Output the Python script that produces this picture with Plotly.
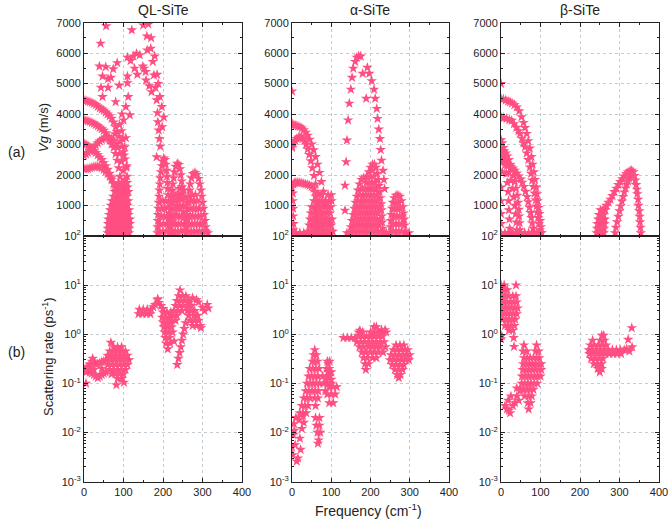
import plotly.graph_objects as go

W, H = 670, 528
PINK = '#ff4f82'
FONT = 'Liberation Sans, Arial, sans-serif'

# ===================== (a) group velocity, QL-SiTe  (f [cm-1], Vg [m/s]) =====================
ql_vg_branch1 = [(0,4450),(5,4440),(10,4420),(15,4400),(20,4370),(25,4340),(30,4300),(35,4250),(40,4200),
                 (45,4160),(50,4120),(55,4060),(60,4000),(65,3940),(70,3860),(75,3730),(80,3580),(84,3420),
                 (88,3270),(92,3100),(96,2940),(100,2760),(104,2520),(107,2250),(109,1950)]
ql_vg_branch2 = [(0,3800),(5,3790),(10,3770),(15,3750),(20,3720),(25,3690),(30,3650),(35,3610),(40,3560),
                 (45,3510),(50,3460),(55,3380),(60,3260),(65,3130),(70,3010),(75,2900),(80,2700),(84,2480),
                 (88,2230),(91,1950),(94,1650)]
ql_vg_branch3 = [(0,3030),(5,3000),(10,2960),(15,2900),(20,2850),(25,2790),(30,2730),(35,2660),(40,2580),
                 (45,2500),(50,2400),(55,2300),(60,2180),(65,2050),(70,1900),(75,1720),(80,1500),(84,1280)]
ql_vg_branch4 = [(0,2640),(5,2680),(10,2730),(15,2790),(20,2850),(25,2910),(30,2980),(35,3050),(40,3110),
                 (45,3160),(50,3200),(55,3230),(60,3240),(65,3220),(70,3180),(75,3120),(80,3030),(85,2900),
                 (90,2700),(95,2450),(100,2150),(103,1850)]
ql_vg_branch5 = [(0,2200),(5,2200),(10,2210),(15,2230),(20,2250),(25,2270),(30,2280),(35,2280),(40,2260),
                 (45,2230),(50,2180),(55,2120),(60,2040),(65,1950),(70,1840),(75,1720),(80,1580),(85,1420)]
ql_vg_scatter_low = [(98,3200),(106,3220),(103,2920),(101,2650),(108,2300),(95,3450),(90,3650),(78,3350)]
ql_vg_scatter_high = [(56,6890),(42,6320),(39,5570),(55,5550),(47,5240),(43,4870),(47,4570),(61,4870),
                      (61,5160),(74,5480),(84,5680),(89,4940),(106,4240),(116,3970),(112,4570),(110,5020),
                      (110,5240),(110,5860),(121,6760),(68,5200),(80,4400),(96,4000),(100,3800),
                      (118,5750),(125,5900),(133,5990),(141,5940),(149,5570),(152,5500),(156,5390),(157,5110),
                      (165,4920),(171,4730),(128,5500),(135,5300),
                      (150,6920),(159,6560),(169,6150),(174,5720),(177,5280),(181,4870),(184,4460),(186,4040),
                      (187,3740),(189,3470),(191,3190),(193,2940),(184,2590),(198,3580),(202,3900),(197,4240),
                      (192,4570),(188,5000),(185,5300),(163,6950),(170,6500),(160,6100),(179,5900)]
ql_vg_blob_rows = [(100,[60,66,72,78,84,90,96,102,108,114]),(250,[60,67,74,81,88,95,102,109,115]),
                   (400,[61,68,75,82,89,96,103,110,116]),(550,[62,69,76,83,90,97,104,111,116]),
                   (700,[64,71,78,85,92,99,106,113]),(850,[66,73,80,87,94,101,108,114]),
                   (1000,[68,75,82,89,96,103,110]),(1150,[71,78,85,92,99,106,112]),
                   (1300,[74,81,88,95,102,109]),(1450,[78,85,92,99,106,112]),(1600,[83,90,97,104,110]),
                   (1750,[88,95,102,109])]
ql_vg_optical_arch1 = [(186,100),(186,300),(187,500),(187,700),(188,900),(189,1100),(190,1300),(191,1500),
                       (192,1700),(193,1900),(195,2100),(197,2300),(199,2450),(202,2550),(205,2500),(207,2350),
                       (209,2150),(210,1950),(211,1750),(212,1550),(213,1350),(214,1150),(214,950),(215,750),
                       (215,550),(216,350),(216,150)]
ql_vg_optical_arch2 = [(218,100),(218,300),(219,500),(220,700),(221,900),(222,1100),(223,1300),(224,1500),
                       (225,1700),(227,1900),(229,2100),(232,2280),(236,2380),(240,2340),(243,2200),(245,2000),
                       (247,1800),(248,1600),(249,1400),(250,1200),(251,1000),(252,800),(253,600),(254,400),
                       (255,200)]
ql_vg_optical_arch3 = [(258,100),(259,300),(260,500),(261,700),(262,900),(263,1100),(265,1300),(267,1500),
                       (269,1700),(272,1900),(276,2040),(281,2080),(286,2020),(290,1880),(293,1700),(296,1500),
                       (298,1300),(300,1100),(302,900),(304,700),(306,500),(308,300),(310,150),(314,100)]
ql_vg_optical_inner = [(228,100),(230,400),(232,700),(235,1000),(238,1300),(242,1550),(247,1600),(252,1500),
                       (256,1250),(258,1000),(260,700),(262,400)]
ql_vg_optical_rows = [(150,[192,200,208,224,231,238,245,264,271,278,285,292,299,305]),
                      (400,[193,201,209,225,232,239,246,266,273,280,287,294,300]),
                      (650,[195,203,210,227,234,241,247,268,275,282,289,296]),
                      (900,[197,204,229,236,243,270,277,284,291]),
                      (1150,[199,206,231,238,272,279,286]),
                      (1350,[233,240,274,282])]

# ===================== (a) group velocity, alpha-SiTe =====================
al_vg_curveA = [(0,3650),(5,3640),(10,3620),(15,3600),(20,3580),(25,3540),(30,3480),(35,3400),(40,3300),
                (45,3170),(50,3010),(55,2820),(60,2600),(65,2350),(70,2080),(75,1780),(80,1460),(85,1120),
                (90,760),(95,400),(98,150)]
al_vg_curveB = [(0,2950),(4,3050),(8,3130),(12,3190),(16,3230),(20,3250),(24,3240),(28,3200),(32,3120),
                (36,3000),(40,2850),(44,2670),(48,2460),(52,2230),(56,1980),(60,1700),(64,1400),(68,1080),
                (72,750),(75,420),(77,150)]
al_vg_curveC = [(0,1600),(3,1700),(6,1740),(10,1760),(15,1760),(20,1750),(25,1740),(30,1720),(35,1700),
                (40,1680),(45,1660),(50,1620),(55,1560),(58,1450),(60,1300),(61,1100),(61,900),(62,700),
                (62,500),(62,300)]
al_vg_left_column = [(2,1400),(2,1150),(3,900),(3,650),(4,400),(4,200),(0,4750),(0,3700),(0,2900)]
al_vg_floor = [(0,100),(10,100),(20,100),(30,100),(40,100),(50,100),(60,100),(70,100),(80,100),(90,100),
               (140,100),(150,100),(240,100),(250,100),(290,100),(298,100)]
al_vg_block_rows = [(150,[42,49,56,63,70,77,84,91,98,104]),(350,[44,51,58,65,72,79,86,93,100]),
                    (550,[46,53,60,67,74,81,88,95,102]),(750,[48,55,62,69,76,83,90,97]),
                    (950,[50,57,64,71,78,85,92,99]),(1150,[56,63,70,77,86,94,101]),
                    (1350,[68,76,92,100])]
al_vg_scatter_arch = [(135,840),(135,1660),(138,2430),(140,3140),(143,3800),(146,4350),(150,4810),(153,5200),
                      (156,5500),(161,5720),(165,5860),(170,5900),(175,5900),(180,5330),(189,4510),(192,5530),
                      (197,5330),(203,5090),(209,4810),(212,4510),(216,4180),(218,3850),(221,3500),(224,3190),
                      (226,2830),(228,2480),(232,2150),(234,1850),(236,1550)]
al_vg_optical_arch1 = [(148,100),(150,300),(153,500),(156,700),(159,900),(162,1100),(165,1300),(168,1500),
                       (172,1700),(177,1850),(183,1900),(190,1950),(196,2100),(200,2250),(205,2350),(210,2350),
                       (214,2250),(217,2050),(219,1850),(221,1650),(223,1450),(225,1250),(227,1050),(228,850),
                       (229,650),(230,450),(231,250),(232,100)]
al_vg_optical_rows1 = [(150,[156,163,170,177,184,191,198,205,212,219,226]),
                       (350,[158,165,172,179,186,193,200,207,214,221]),
                       (550,[161,168,175,182,189,196,203,210,217,224]),
                       (750,[163,170,177,184,191,198,205,212,219]),
                       (950,[166,173,180,187,194,201,208,215,222]),
                       (1150,[169,176,183,190,197,204,211,218]),
                       (1350,[174,181,188,195,202,209,216]),(1550,[180,187,194,201,208,214]),
                       (1750,[190,197,204,211]),(1950,[200,208]),(2150,[205])]
al_vg_optical_arch2 = [(250,100),(251,300),(252,500),(253,700),(255,900),(257,1100),(260,1250),(265,1330),
                       (270,1340),(275,1300),(279,1150),(282,950),(284,750),(286,550),(287,350),(288,150)]
al_vg_optical_rows2 = [(150,[258,265,272,279]),(400,[258,265,272,279]),(650,[260,267,274,281]),
                       (900,[262,269,276]),(1100,[265,272])]

# ===================== (a) group velocity, beta-SiTe =====================
be_vg_curve1 = [(0,4500),(6,4490),(12,4460),(18,4420),(23,4400),(28,4360),(34,4300),(40,4230),(46,4100),
                (52,3910),(57,3720),(61,3550),(65,3360),(69,3120),(73,2880),(77,2600),(80,2350),(83,2100),
                (86,1850),(89,1600),(91,1380),(93,1150),(95,930),(97,730),(99,500),(101,300),(103,100)]
be_vg_curve2 = [(0,3900),(7,3880),(14,3850),(21,3810),(27,3790),(33,3680),(39,3560),(44,3450),(48,3360),
                (53,3200),(57,3050),(61,2920),(65,2720),(69,2500),(73,2260),(76,2050),(79,1830),(82,1620),
                (85,1400),(88,1180),(90,980),(92,780),(94,600),(96,400),(98,200),(99,100)]
be_vg_curve3 = [(0,2800),(4,2800),(8,2780),(12,2720),(16,2620),(20,2500),(24,2350),(28,2180),(32,1980),
                (35,1780),(38,1560),(41,1330),(43,1100),(45,870),(46,650),(47,430),(48,200)]
be_vg_curve4 = [(0,2450),(5,2440),(10,2410),(15,2380),(20,2340),(25,2280),(30,2220),(35,2150),(40,2060),
                (45,1960),(50,1860),(54,1760),(58,1620),(62,1460),(66,1290),(69,1120),(72,940),(75,760),
                (77,600),(79,420),(81,250),(82,100)]
be_vg_curve5 = [(0,3150),(3,3050),(6,2900),(9,2650),(12,2350),(14,2050),(16,1750),(18,1450),(19,1150),
                (20,850),(21,550),(22,250)]
be_vg_curve6 = [(0,2650),(5,2600),(10,2480),(15,2300),(20,2080),(25,1820),(29,1550),(32,1280),(35,1000),
                (37,720),(39,450),(40,200)]
be_vg_isolated = [(0,5000),(0,1150),(0,730),(0,400),(3,2100),(0,1600)]
be_vg_floor = [(0,100),(10,100),(20,100),(30,100),(40,100),(50,100),(60,100),(70,100),(80,100),(90,100),(100,100)]
be_vg_optical_rows = [(100,[242,248,254,260]),(250,[243,249,255,261]),(400,[244,250,256,262]),
                      (550,[246,252,258,263]),(700,[248,254,260]),(850,[252,258,264])]
be_vg_optical_outer = [(262,900),(267,1000),(272,1100),(277,1200),(282,1320),(287,1450),(292,1560),(297,1680),
                       (302,1780),(307,1870),(312,1960),(317,2040),(322,2100),(327,2140),(331,2150),(335,2100),
                       (338,1980),(340,1830),(342,1680),(344,1530),(345,1380),(347,1200),(348,1000),(350,820),
                       (351,640),(352,460),(353,280),(354,100)]
be_vg_optical_inner = [(289,100),(291,280),(294,460),(297,640),(300,820),(303,980),(306,1140),(309,1290),
                       (312,1440),(315,1570),(318,1690),(321,1800),(324,1890),(327,1960)]

# ===================== (b) scattering rate, QL-SiTe (f [cm-1], rate [ps-1]) =====================
ql_sr_left_band = [(8,0.2),(12,0.22),(16,0.25),(20,0.28),(22,0.32),(26,0.27),(30,0.25),(35,0.25),(40,0.26),
                   (45,0.27),(50,0.28),(55,0.3),(5,0.17),(10,0.18),(15,0.17),(20,0.16),(25,0.15),(30,0.14),
                   (35,0.13),(40,0.14),(45,0.15),(50,0.16),(55,0.17),(5,0.1),(0,0.19),(10,0.21),(25,0.19),
                   (45,0.2),(15,0.24),(68,0.68),(82,0.093),(101,0.105)]
ql_sr_blob1_rows = [(0.55,[75,85,95]),(0.45,[65,75,85,95,105]),(0.37,[60,70,80,90,100,110]),
                    (0.30,[58,68,78,88,98,108,114]),(0.24,[60,70,80,90,100,110]),(0.19,[65,75,85,95,105]),
                    (0.155,[70,80,90,100]),(0.125,[85,95])]
ql_sr_blob2_rows = [(3.2,[140,150,160,170]),(2.6,[138,148,158,168]),
                    (2.8,[200,210,220]),(2.2,[198,208,218]),(1.75,[200,210,220]),(1.4,[202,212,222]),
                    (1.1,[204,214,224]),(0.85,[206,216]),(0.65,[208,218]),(0.5,[212]),
                    (6.0,[240,250,258]),(4.8,[235,245,255,265]),(3.8,[232,242,252,262,272]),
                    (3.0,[228,238,248,262,272,280]),(2.4,[225,235,265,278,288]),(1.9,[222,232,268,280,290]),
                    (1.5,[275,285,295])]
ql_sr_blob2_extra = [(175,3.6),(180,4.0),(186,5.0),(190,4.4),(195,3.8),(200,3.3),(187,5.2),
                     (257,1.7),(254,1.3),(251,1.0),(248,0.75),(245,0.55),(242,0.42),(239,0.32),(236,0.24),
                     (228,0.72),(243,7.9),(296,1.35),(290,4.5),(300,3.5),(305,3.0),(312,4.0),(315,3.4),
                     (285,5.0),(275,5.5),(268,4.5)]

# ===================== (b) scattering rate, alpha-SiTe =====================
al_sr_low = [(0,0.005),(3,0.009),(5,0.015),(8,0.0056),(12,0.0026),(15,0.003),(20,0.0076),(22,0.0045),
             (25,0.012),(10,0.02),(18,0.018),(28,0.022),(30,0.016),(6,0.011),(2,0.0035)]
al_sr_main_rows = [(0.025,[20,28,36]),(0.035,[25,33,41,60]),(0.05,[30,38,46,58,66]),
                   (0.07,[35,43,51,59,67,85]),(0.1,[38,46,54,62,70,80,90,100]),(0.14,[42,50,58,66,78,88,96]),
                   (0.2,[45,53,61,69,88,95]),(0.28,[52,58,65,90,96]),(0.38,[55,62]),(0.48,[58]),
                   (0.02,[60,70]),(0.014,[62,70]),(0.01,[65,72]),(0.007,[68]),(0.006,[66]),
                   (0.04,[95,105]),(0.06,[90,100,110]),(0.085,[95,105,114]),(0.12,[88,100]),
                   (0.17,[92,100]),(0.25,[92])]
al_sr_blob2_rows = [(0.85,[131,141,151,161]),(1.2,[173]),(1.1,[170,180,200,210,220,230,240]),
                    (0.9,[170,180,190,200,210,220,230]),(0.7,[165,175,185,195,205,215,225,235]),
                    (0.55,[172,182,195,205,215,225,238]),(0.43,[178,188,200,210,220,232]),
                    (0.33,[182,192,205,215]),(0.25,[186,195]),(0.19,[188]),(1.41,[209,215]),(1.23,[228,237])]
al_sr_blob3_rows = [(0.6,[265,275,285]),(0.48,[258,268,278,288,295]),(0.38,[252,262,272,282,292,300]),
                    (0.3,[250,260,270,280,290,298]),(0.24,[255,265,275,285]),(0.19,[262,272,282]),
                    (0.15,[268,276]),(0.13,[272])]

# ===================== (b) scattering rate, beta-SiTe =====================
be_sr_top_rows = [(10,[0,8,38]),(8,[0,8,16]),(6,[2,10,18,30,38]),(4.5,[0,8,16,24,32,40]),
                  (3.4,[2,10,18,26,34,42]),(2.6,[0,8,16,24,32,40]),(2,[4,12,20,28,36]),(1.5,[10,18,26,34]),
                  (1.2,[20,30]),(0.93,[2]),(0.85,[32]),(0.56,[33]),(0.8,[0])]
be_sr_low = [(10,0.035),(15,0.03),(20,0.028),(23,0.025),(30,0.035),(35,0.04),(40,0.055),(45,0.045),
             (25,0.055),(18,0.045),(48,0.07),(40,0.08)]
be_sr_main_rows = [(0.6,[58,90]),(0.45,[56,65,88,95]),(0.33,[58,66,74,82,90,97]),
                   (0.25,[56,64,72,80,88,96,102]),(0.19,[55,63,71,79,87,95,102]),
                   (0.14,[53,61,69,77,85,93,100]),(0.1,[52,60,68,76,84,92]),(0.075,[50,58,66,74,82]),
                   (0.055,[60,70,78]),(0.04,[68,75]),(0.03,[70])]
be_sr_right_rows = [(0.95,[255,260]),(0.75,[232,252,262]),(0.6,[226,236,246,256,266]),
                    (0.48,[222,232,242,252,262,272,282,292,302,312]),(0.4,[224,234,244,254,264,274,284,294,304]),
                    (0.32,[228,238,248,258]),(0.25,[235,245,255]),(0.2,[245,255]),(0.17,[250])]
be_sr_tail = [(318,0.5),(322,0.78),(331,1.35),(332,0.55),(325,0.45)]

panel_titles = ['QL-SiTe', 'α-SiTe', 'β-SiTe']
vg_ticks = [1000, 2000, 3000, 4000, 5000, 6000, 7000]
sr_ticks = [1e-3, 1e-2, 1e-1, 1e0, 1e1, 1e2]
sr_ticktext = ['10<sup>-3</sup>', '10<sup>-2</sup>', '10<sup>-1</sup>', '10<sup>0</sup>', '10<sup>1</sup>', '10<sup>2</sup>']
freq_ticks = [0, 100, 200, 300, 400]


def from_pairs(*groups):
    xs, ys = [], []
    for g in groups:
        for x, y in g:
            xs.append(x)
            ys.append(y)
    return xs, ys


def from_rows(*groups):
    xs, ys = [], []
    for g in groups:
        for y, row in g:
            for x in row:
                xs.append(x)
                ys.append(y)
    return xs, ys


def merge(*parts):
    xs, ys = [], []
    for px, py in parts:
        xs += px
        ys += py
    return xs, ys


panels = [
    merge(from_pairs(ql_vg_branch1, ql_vg_branch2, ql_vg_branch3, ql_vg_branch4, ql_vg_branch5,
                     ql_vg_scatter_low, ql_vg_scatter_high, ql_vg_optical_arch1, ql_vg_optical_arch2,
                     ql_vg_optical_arch3, ql_vg_optical_inner),
          from_rows(ql_vg_blob_rows, ql_vg_optical_rows)),
    merge(from_pairs(al_vg_curveA, al_vg_curveB, al_vg_curveC, al_vg_left_column, al_vg_floor,
                     al_vg_scatter_arch, al_vg_optical_arch1, al_vg_optical_arch2),
          from_rows(al_vg_block_rows, al_vg_optical_rows1, al_vg_optical_rows2)),
    merge(from_pairs(be_vg_curve1, be_vg_curve2, be_vg_curve3, be_vg_curve4, be_vg_curve5, be_vg_curve6,
                     be_vg_isolated, be_vg_floor, be_vg_optical_outer, be_vg_optical_inner),
          from_rows(be_vg_optical_rows)),
    merge(from_pairs(ql_sr_left_band, ql_sr_blob2_extra), from_rows(ql_sr_blob1_rows, ql_sr_blob2_rows)),
    merge(from_pairs(al_sr_low), from_rows(al_sr_main_rows, al_sr_blob2_rows, al_sr_blob3_rows)),
    merge(from_pairs(be_sr_low, be_sr_tail), from_rows(be_sr_top_rows, be_sr_main_rows, be_sr_right_rows)),
]

fig = go.Figure()
for i, (xs, ys) in enumerate(panels):
    n = i + 1
    fig.add_trace(go.Scatter(
        x=xs, y=ys, mode='markers',
        marker=dict(symbol='star', size=8, color=PINK, line=dict(width=0)),
        xaxis='x' if n == 1 else f'x{n}', yaxis='y' if n == 1 else f'y{n}',
        showlegend=False, hoverinfo='skip'))


def px_x(px):
    return px / W


def px_y(py):
    return 1 - py / H


xdoms = [[px_x(84), px_x(242)], [px_x(292), px_x(449)], [px_x(501), px_x(659)]]
ytop = [px_y(236), px_y(22.7)]
ybot = [px_y(481.7), px_y(236)]

axis_common = dict(showline=True, linecolor='#222222', linewidth=1, mirror='ticks', automargin=False,
                   ticks='inside', ticklen=4, tickcolor='#222222',
                   showgrid=True, gridcolor='#c3cbd3', griddash='dot', gridwidth=1,
                   zeroline=False, tickfont=dict(family=FONT, size=11, color='#222222'))

log_minor = []
for e in range(-3, 2):
    for m in range(2, 10):
        log_minor.append(m * 10 ** e)

layout = dict(width=W, height=H, margin=dict(l=0, r=0, t=0, b=0, autoexpand=False),
              paper_bgcolor='white', plot_bgcolor='white', font=dict(family=FONT, color='#222222'))

for i in range(6):
    n = i + 1
    col = i % 3
    top = i < 3
    xkey = 'xaxis' if n == 1 else f'xaxis{n}'
    ykey = 'yaxis' if n == 1 else f'yaxis{n}'
    yname = 'y' if n == 1 else f'y{n}'
    xname = 'x' if n == 1 else f'x{n}'
    xa = dict(axis_common, domain=xdoms[col], range=[0, 400], tickvals=freq_ticks,
              showticklabels=not top, anchor=yname,
              minor=dict(ticks='inside', ticklen=2, dtick=50, tickcolor='#222222', showgrid=False))
    if top:
        ya = dict(axis_common, domain=ytop, range=[0, 7000], tickvals=vg_ticks, anchor=xname,
                  minor=dict(ticks='inside', ticklen=2, dtick=500, tickcolor='#222222', showgrid=False))
    else:
        ya = dict(axis_common, domain=ybot, type='log', range=[-3, 2], tickvals=sr_ticks,
                  ticktext=sr_ticktext, anchor=xname,
                  minor=dict(ticks='inside', ticklen=2, tickvals=log_minor, tickcolor='#222222', showgrid=False))
    layout[xkey] = xa
    layout[ykey] = ya


def label(text, px, py, size, angle=0):
    return dict(text=text, x=px_x(px), y=px_y(py), xref='paper', yref='paper', showarrow=False,
                xanchor='center', yanchor='middle', textangle=angle,
                font=dict(family=FONT, size=size, color='#222222'))


ann = []
titles_x = [163, 370, 580]
for t, px in zip(panel_titles, titles_x):
    ann.append(label(t, px, 10, 14))
ann.append(label('(a)', 16, 152, 14))
ann.append(label('(b)', 16, 352, 14))
ann.append(label('<i>Vg</i> (m/s)', 43, 128, 13, -90))
ann.append(label('Scattering rate (ps<sup>-1</sup>)', 48, 357, 13, -90))
ann.append(label('Frequency (cm<sup>-1</sup>)', 368, 510, 14))
layout['annotations'] = ann

fig.update_layout(**layout)
# the page's default 8px body margin would push the fixed-size figure off its place
fig.write_html('out.html', config={'displayModeBar': False},
               post_script="document.body.style.margin='0px';")
